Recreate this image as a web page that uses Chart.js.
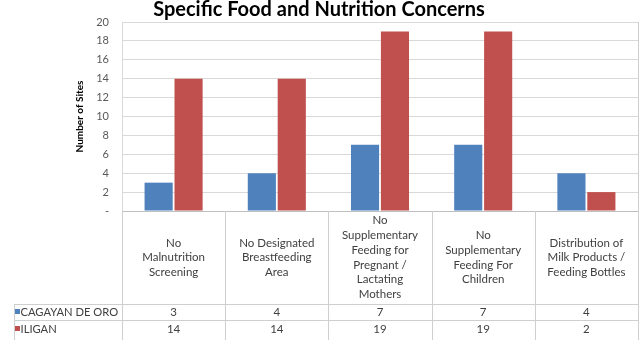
<!DOCTYPE html>
<html>
<head>
<meta charset="utf-8">
<script src="https://cdn.jsdelivr.net/npm/chart.js@4/dist/chart.umd.min.js"></script>
<style>
  html, body { margin: 0; padding: 0; background: #ffffff; }
  #wrap { width: 640px; height: 340px; position: relative; }
</style>
</head>
<body>
<div id="wrap"><canvas id="c" width="640" height="340"></canvas></div>
<script>
const chartTitle = 'Specific Food and Nutrition Concerns';
const yAxisTitle = 'Number of Sites';
const categories = [
  ['No', 'Malnutrition', 'Screening'],
  ['No Designated', 'Breastfeeding', 'Area'],
  ['No', 'Supplementary', 'Feeding for', 'Pregnant /', 'Lactating', 'Mothers'],
  ['No', 'Supplementary', 'Feeding For', 'Children'],
  ['Distribution of', 'Milk Products /', 'Feeding Bottles']
];
const seriesNames = ['CAGAYAN DE ORO', 'ILIGAN'];
const cagayanValues = [3, 4, 7, 7, 4];
const iliganValues = [14, 14, 19, 19, 2];
const seriesColors = ['#4f81bd', '#c0504d'];
const yTicks = [0, 2, 4, 6, 8, 10, 12, 14, 16, 18, 20];

Chart.defaults.font.family = 'Lato, "Open Sans", sans-serif';

const tablePlugin = {
  id: 'dataTable',
  afterDraw(chart) {
    const { ctx, chartArea } = chart;
    const x = chart.scales.x;
    const n = categories.length;
    const colW = (chartArea.right - chartArea.left) / n;
    const top = chartArea.bottom;
    const labelBottom = 304;
    const rowLine = 320;
    const tableBottom = 340;
    const tableLeft = 14;
    const px = v => Math.round(v) + 0.5;
    ctx.save();
    ctx.strokeStyle = '#cfcfcf';
    ctx.lineWidth = 1;
    ctx.beginPath();
    // right border of plot and table
    ctx.moveTo(px(chartArea.right), chartArea.top);
    ctx.lineTo(px(chartArea.right), tableBottom);
    // column separators
    for (let i = 0; i < n; i++) {
      const bx = px(chartArea.left + i * colW);
      ctx.moveTo(bx, top);
      ctx.lineTo(bx, tableBottom);
    }
    // left edge of series-name column
    ctx.moveTo(px(tableLeft), labelBottom);
    ctx.lineTo(px(tableLeft), tableBottom);
    // row lines
    [labelBottom, rowLine].forEach(yy => {
      ctx.moveTo(tableLeft, px(yy));
      ctx.lineTo(chartArea.right + 1, px(yy));
    });
    ctx.stroke();

    // category labels
    ctx.fillStyle = '#404040';
    ctx.font = '11.5px Lato, "Open Sans", sans-serif';
    ctx.textAlign = 'center';
    ctx.textBaseline = 'middle';
    const lh = 14.7;
    const midY = (top + labelBottom) / 2;
    categories.forEach((lines, i) => {
      const cx = x.getPixelForValue(i);
      lines.forEach((t, j) => {
        ctx.fillText(t, cx, midY + (j - (lines.length - 1) / 2) * lh);
      });
    });

    // series rows
    const rowsY = [312, 329];
    const rows = [cagayanValues, iliganValues];
    rows.forEach((vals, r) => {
      const ry = rowsY[r];
      ctx.fillStyle = seriesColors[r];
      ctx.fillRect(15, ry - 3, 5, 5);
      ctx.fillStyle = '#404040';
      ctx.textAlign = 'left';
      ctx.font = '11.2px Lato, "Open Sans", sans-serif';
      ctx.fillText(seriesNames[r], 20.5, ry);
      ctx.font = '11.5px Lato, "Open Sans", sans-serif';
      ctx.textAlign = 'center';
      vals.forEach((v, i) => {
        ctx.fillText(String(v), x.getPixelForValue(i), ry);
      });
    });
    ctx.restore();
  }
};

new Chart(document.getElementById('c'), {
  type: 'bar',
  data: {
    labels: categories,
    datasets: [
      { label: seriesNames[0], data: cagayanValues, backgroundColor: seriesColors[0], borderWidth: 0 },
      { label: seriesNames[1], data: iliganValues, backgroundColor: seriesColors[1], borderWidth: 0 }
    ]
  },
  options: {
    responsive: false,
    animation: false,
    devicePixelRatio: 1,
    layout: { padding: { left: 0, right: 2, top: 0, bottom: 0 } },
    datasets: { bar: { categoryPercentage: 0.58, barPercentage: 0.94 } },
    plugins: {
      legend: { display: false },
      tooltip: { enabled: false },
      title: {
        display: true,
        text: chartTitle,
        color: '#000000',
        font: { size: 20, weight: 'bold', lineHeight: 1.0 },
        padding: { top: 0, bottom: 2 }
      }
    },
    scales: {
      x: {
        ticks: { display: false },
        grid: { display: false },
        border: { display: true, color: '#bfbfbf' },
        afterFit(s) { s.height = 129; }
      },
      y: {
        min: 0,
        max: 20,
        afterBuildTicks(s) { s.ticks = yTicks.map(v => ({ value: v })); },
        ticks: {
          color: '#595959',
          font: { size: 11 },
          padding: 13,
          callback: v => (v === 0 ? '-' : String(v))
        },
        grid: { color: '#d9d9d9', drawTicks: false },
        border: { display: true, color: '#d9d9d9' },
        title: {
          display: true,
          text: yAxisTitle,
          color: '#000000',
          font: { size: 10, weight: 'bold' },
          padding: { top: 74, bottom: 0 }
        },
        afterFit(s) { s.width = 122; }
      }
    }
  },
  plugins: [tablePlugin]
});
</script>
</body>
</html>
